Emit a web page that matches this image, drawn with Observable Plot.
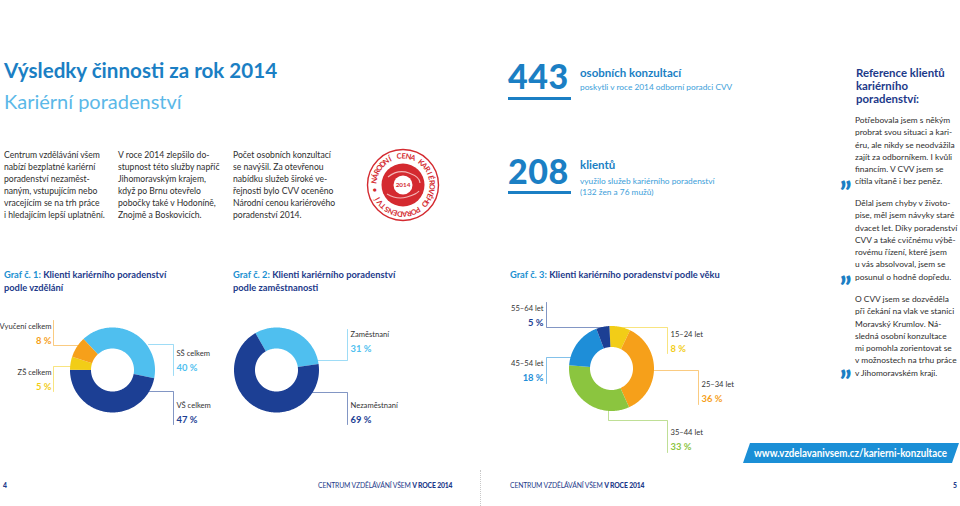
<!DOCTYPE html>
<html><head><meta charset="utf-8">
<script src="https://cdn.jsdelivr.net/npm/d3@7"></script>
<script src="https://cdn.jsdelivr.net/npm/@observablehq/plot@0.6"></script>
<style>
body{margin:0;background:#fff;font-family:Lato,"Open Sans",sans-serif;color:#2e2e2e;}
#page{position:relative;width:960px;height:506px;overflow:hidden;background:#fff;}
#chart{position:absolute;left:0;top:0;}
.abs{position:absolute;white-space:nowrap;}
.title{left:4px;top:58px;font-size:20.6px;font-weight:700;color:#1b7fc4;line-height:24px;}
.subtitle{left:4px;top:89px;font-size:20px;font-weight:400;color:#5bb8e8;line-height:24px;}
.col{top:150px;font-size:8.6px;line-height:11.9px;color:#2e2e2e;}
.graf{font-size:9.3px;font-weight:700;line-height:13px;color:#1d3a8a;}
.graf span{color:#1a8fd1;}
.big{font-size:34px;font-weight:900;color:#1b7fc4;line-height:34px;letter-spacing:0.5px;}
.bar{position:absolute;height:3px;background:#1b7fc4;}
.kh{font-size:11.5px;font-weight:700;color:#1b7fc4;line-height:14px;}
.ks{font-size:8.3px;color:#3b9ed9;line-height:10.5px;}
.refh{left:856px;top:66px;font-size:11.4px;font-weight:700;color:#1d3a8a;line-height:13.2px;}
.quote{left:855px;font-size:8.4px;line-height:12.25px;color:#2e2e2e;}
.qm{font-size:30px;font-weight:900;color:#1b7fc4;line-height:30px;}
.foot{top:480px;font-size:6.8px;color:#1d3a8a;line-height:10px;letter-spacing:-0.15px;}
.foot b{font-weight:900;}
</style></head>
<body>
<div id="page">
<div id="chart"></div>

<div class="abs title">Výsledky činnosti za rok 2014</div>
<div class="abs subtitle">Kariérní poradenství</div>

<div class="abs col" style="left:4px">Centrum vzdělávání všem<br>nabízí bezplatné kariérní<br>poradenství nezaměst-<br>naným, vstupujícím nebo<br>vracejícím se na trh práce<br>i hledajícím lepší uplatnění.</div>
<div class="abs col" style="left:118px">V roce 2014 zlepšilo do-<br>stupnost této služby napříč<br>Jihomoravským krajem,<br>když po Brnu otevřelo<br>pobočky také v Hodoníně,<br>Znojmě a Boskovicích.</div>
<div class="abs col" style="left:233px">Počet osobních konzultací<br>se navýšil. Za otevřenou<br>nabídku služeb široké ve-<br>řejnosti bylo CVV oceněno<br>Národní cenou kariérového<br>poradenství 2014.</div>

<svg class="abs" style="left:365px;top:147px" width="76" height="76" viewBox="-38 -38 76 76">
  <circle r="35.5" fill="#fff" stroke="#d42a30" stroke-width="1.4"/>
  <circle r="21.5" fill="#d42a30"/>
  <path d="M-15,-8 Q-5,-16 6,-12 T17,-2" fill="none" stroke="#f3b5b5" stroke-width="1.2"/>
  <path d="M-16,9 Q-6,15 4,12 T16,6" fill="none" stroke="#f3b5b5" stroke-width="1.2"/>
  <circle r="9.5" fill="#fff"/>
  <text y="2.3" text-anchor="middle" font-size="6.3" font-weight="700" fill="#d42a30" font-family="Lato">2014</text>
  <g id="ringtext" font-size="7.4" font-weight="700" fill="#d42a30" font-family="Lato" text-anchor="middle"></g>
</svg>

<div class="abs graf" style="left:4px;top:268px"><span>Graf č. 1:</span> Klienti kariérního poradenství<br>podle vzdělání</div>
<div class="abs graf" style="left:233px;top:268px"><span>Graf č. 2:</span> Klienti kariérního poradenství<br>podle zaměstnanosti</div>
<div class="abs graf" style="left:510px;top:268px"><span>Graf č. 3:</span> Klienti kariérního poradenství podle věku</div>

<div class="abs big" id="n1" style="left:508px;top:59px"></div>
<div class="bar" style="left:508px;top:97px;width:63px"></div>
<div class="abs kh" style="left:580px;top:66px">osobních konzultací</div>
<div class="abs ks" style="left:580px;top:82px">poskytli v roce 2014 odborní poradci CVV</div>

<div class="abs big" id="n2" style="left:508px;top:154px"></div>
<div class="bar" style="left:508px;top:191px;width:63px"></div>
<div class="abs kh" style="left:580px;top:158px">klientů</div>
<div class="abs ks" id="split" style="left:580px;top:176px"></div>

<div class="abs refh">Reference klientů<br>kariérního<br>poradenství:</div>
<div class="abs quote" style="top:114px">Potřebovala jsem s někým<br>probrat svou situaci a kari-<br>éru, ale nikdy se neodvážila<br>zajít za odborníkem. I kvůli<br>financím. V CVV jsem se<br>cítila vítaně i bez peněz.</div>
<div class="abs quote" style="top:197px">Dělal jsem chyby v životo-<br>pise, měl jsem návyky staré<br>dvacet let. Díky poradenství<br>CVV a také cvičnému výbě-<br>rovému řízení, které jsem<br>u vás absolvoval, jsem se<br>posunul o hodně dopředu.</div>
<div class="abs quote" style="top:293px">O CVV jsem se dozvěděla<br>při čekání na vlak ve stanici<br>Moravský Krumlov. Ná-<br>sledná osobní konzultace<br>mi pomohla zorientovat se<br>v možnostech na trhu práce<br>v Jihomoravském kraji.</div>
<div class="abs qm" style="left:840px;top:158px">„</div>
<div class="abs qm" style="left:840px;top:253px">„</div>
<div class="abs qm" style="left:840px;top:347px">„</div>

<svg class="abs" style="left:740px;top:442px" width="220" height="22">
  <polygon points="3,21 10,1 219,1 212,21" fill="#1b8fd6"/>
  <text x="14" y="14.6" font-size="10.4" font-weight="700" fill="#fff" font-family="Lato" textLength="193" lengthAdjust="spacingAndGlyphs">www.vzdelavanivsem.cz/karierni-konzultace</text>
</svg>

<div class="abs foot" style="left:3px;font-weight:900">4</div>
<div class="abs foot" style="left:318px">CENTRUM VZDĚLÁVÁNÍ VŠEM <b>V ROCE 2014</b></div>
<div class="abs foot" style="left:510px">CENTRUM VZDĚLÁVÁNÍ VŠEM <b>V ROCE 2014</b></div>
<div class="abs foot" style="left:953px;font-weight:900">5</div>
<div class="abs" style="left:480px;top:470px;width:0;height:36px;border-left:1px dotted #c8c8c8"></div>
</div>

<script>
// ---- data ----
const eduCategories = ["SŠ celkem", "VŠ celkem", "ZŠ celkem", "Vyučení celkem"];
const eduValues = [40, 47, 5, 8];
const empCategories = ["Zaměstnaní", "Nezaměstnaní"];
const empValues = [31, 69];
const ageCategories = ["15–24 let", "25–34 let", "35–44 let", "45–54 let", "55–64 let"];
const ageValues = [8, 36, 33, 18, 5];
const headlineValues = [443, 208];
const clientSplit = [132, 76]; // ženy, muži

document.getElementById("n1").textContent = headlineValues[0];
document.getElementById("n2").textContent = headlineValues[1];
document.getElementById("split").innerHTML =
  `využilo služeb kariérního poradenství<br>(${clientSplit[0]} žen a ${clientSplit[1]} mužů)`;

// seal ring lettering
{
  const ring = "• NÁRODNÍ CENA KARIÉROVÉHO PORADENSTVÍ ";
  const g = document.getElementById("ringtext");
  const chars = [...ring];
  const step = 360 / chars.length;
  chars.forEach((ch, i) => {
    if (ch === " ") return;
    const t = document.createElementNS("http://www.w3.org/2000/svg", "text");
    t.setAttribute("transform", `rotate(${-100 + i * step}) translate(0,-26.5)`);
    t.textContent = ch;
    g.appendChild(t);
  });
}

// ---- styling / layout ----
const colorDomain = [...eduCategories, ...empCategories, ...ageCategories];
const colorRange = [
  "#4fbfef", "#1c3f94", "#f2cd17", "#f6a01a",
  "#4fbfef", "#1c3f94",
  "#f2cd17", "#f6a01a", "#8bc53f", "#1e8ed8", "#1c3f94"
];
const R_OUT = 42.5, R_IN = 21.5;

const donuts = [
  {cats: eduCategories, vals: eduValues, cx: 112, cy: 369.5, start: -0.75,
   layout: {
     "SŠ celkem": {path: [[148, 344], [173, 344], [173, 375]], lx: 176, ly: 353, anchor: "start"},
     "VŠ celkem": {path: [[148.5, 391], [173, 391], [173, 424]], lx: 176, ly: 405, anchor: "start"},
     "ZŠ celkem": {path: [[72, 366], [53, 366], [53, 391]], lx: 51, ly: 372, anchor: "end"},
     "Vyučení celkem": {path: [[82, 345], [53, 345], [53, 320]], lx: 51, ly: 326, anchor: "end"}
   }},
  {cats: empCategories, vals: empValues, cx: 276, cy: 369.5, start: -0.52,
   layout: {
     "Zaměstnaní": {path: [[317, 360], [347, 360], [347, 329]], lx: 350, ly: 334, anchor: "start"},
     "Nezaměstnaní": {path: [[312, 392], [347, 392], [347, 424]], lx: 350, ly: 405, anchor: "start"}
   }},
  {cats: ageCategories, vals: ageValues, cx: 611, cy: 368, start: -0.05,
   layout: {
     "15–24 let": {path: [[620, 327], [667, 327], [667, 353]], lx: 670, ly: 334, anchor: "start"},
     "25–34 let": {path: [[652.5, 370], [698, 370], [698, 404]], lx: 701, ly: 384, anchor: "start"},
     "35–44 let": {path: [[608, 410], [608, 420], [667, 420], [667, 452]], lx: 670, ly: 432, anchor: "start"},
     "45–54 let": {path: [[570.5, 357], [546, 357], [546, 383]], lx: 543, ly: 363, anchor: "end"},
     "55–64 let": {path: [[602, 327], [546, 327], [546, 302]], lx: 543, ly: 308, anchor: "end"}
   }}
];

const slicePts = [], leaderPts = [], labels = [];
for (const d of donuts) {
  const arcs = d3.pie().sort(null).value(v => v.v)
    .startAngle(d.start).endAngle(d.start + 2 * Math.PI)(d.cats.map((c, i) => ({c, v: d.vals[i]})));
  for (const a of arcs) {
    const n = Math.max(6, Math.ceil((a.endAngle - a.startAngle) / 0.02));
    const ring = [];
    for (let i = 0; i <= n; i++) {
      const t = a.startAngle + (a.endAngle - a.startAngle) * i / n;
      ring.push({k: a.data.c, x: d.cx + R_OUT * Math.sin(t), y: d.cy - R_OUT * Math.cos(t)});
    }
    for (let i = n; i >= 0; i--) {
      const t = a.startAngle + (a.endAngle - a.startAngle) * i / n;
      ring.push({k: a.data.c, x: d.cx + R_IN * Math.sin(t), y: d.cy - R_IN * Math.cos(t)});
    }
    slicePts.push(...ring);
    const L = d.layout[a.data.c];
    for (const [x, y] of L.path) leaderPts.push({k: a.data.c, x, y});
    labels.push({k: a.data.c, text: a.data.c, pct: `${a.data.v} %`, x: L.lx, y: L.ly, anchor: L.anchor});
  }
}

const chart = Plot.plot({
  width: 960, height: 506, margin: 0,
  style: {background: "transparent", fontFamily: "Lato, sans-serif"},
  x: {domain: [0, 960], range: [0, 960], axis: null},
  y: {domain: [0, 506], range: [0, 506], axis: null},
  color: {type: "ordinal", domain: colorDomain, range: colorRange},
  marks: [
    Plot.line(leaderPts, {x: "x", y: "y", z: "k", stroke: "k", strokeWidth: 1, strokeOpacity: 0.55}),
    Plot.line(slicePts, {x: "x", y: "y", z: "k", fill: "k", stroke: null, curve: "linear"}),
    ...["start", "end"].flatMap(anchor => [
      Plot.text(labels.filter(l => l.anchor === anchor), {x: "x", y: "y", text: "text", textAnchor: anchor, fill: "#333", fontSize: 7.6}),
      Plot.text(labels.filter(l => l.anchor === anchor), {x: "x", y: d => d.y + 14, text: "pct", textAnchor: anchor, fill: "k", fontSize: 9.4, fontWeight: "bold"})
    ])
  ]
});
document.getElementById("chart").appendChild(chart);
</script>
</body></html>
